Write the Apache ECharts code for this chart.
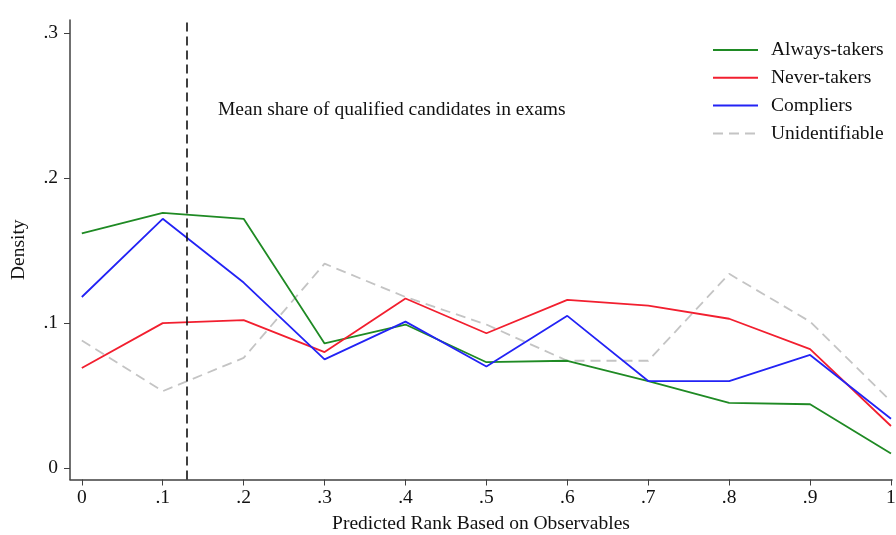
<!DOCTYPE html>
<html>
<head>
<meta charset="utf-8">
<script src="https://cdn.jsdelivr.net/npm/echarts@6/dist/echarts.min.js"></script>
<style>html,body{margin:0;padding:0;background:#fff}#c{width:896px;height:535px}</style>
</head>
<body>
<div id="c"></div>
<script>
var xValues = [0, 0.1, 0.2, 0.3, 0.4, 0.5, 0.6, 0.7, 0.8, 0.9, 1];
var alwaysTakers = [0.162, 0.176, 0.172, 0.086, 0.099, 0.073, 0.074, 0.060, 0.045, 0.044, 0.010];
var neverTakers = [0.069, 0.100, 0.102, 0.080, 0.117, 0.093, 0.116, 0.112, 0.103, 0.082, 0.029];
var compliers = [0.118, 0.172, 0.128, 0.075, 0.101, 0.070, 0.105, 0.060, 0.060, 0.078, 0.034];
var unidentifiable = [0.088, 0.053, 0.076, 0.141, 0.118, 0.099, 0.074, 0.074, 0.134, 0.101, 0.046];
var xTicks = [0, 0.1, 0.2, 0.3, 0.4, 0.5, 0.6, 0.7, 0.8, 0.9, 1];
var yTicks = [0, 0.1, 0.2, 0.3];
var meanShare = 0.133;
var annotation = 'Mean share of qualified candidates in exams';

function pairs(ys) { return xValues.map(function (x, i) { return [x, ys[i]]; }); }
function fmt(v) {
  if (v === 0) return '0';
  if (v === 1) return '1';
  return String(+v.toFixed(2)).replace(/^0/, '');
}
var FONT = '"Liberation Serif", "DejaVu Serif", serif';
var FS = 19.5;
var chart = echarts.init(document.getElementById('c'), null, { renderer: 'canvas' });
var axisColor = '#404040';
var yMin = -0.007937, yMax = 0.30918;
chart.setOption({
  backgroundColor: '#fff',
  animation: false,
  textStyle: { fontFamily: FONT },
  grid: { left: 70, right: 4, top: 20, bottom: 55.5, containLabel: false, outerBoundsMode: 'none' },
  xAxis: {
    type: 'value', min: -0.014591, max: 1.00124,
    name: 'Predicted Rank Based on Observables', nameLocation: 'middle', nameGap: 34,
    nameTextStyle: { fontFamily: FONT, fontSize: FS, color: '#111' },
    axisLine: { show: true, onZero: false, lineStyle: { color: axisColor, width: 1.5 } },
    axisTick: { show: true, length: 6, customValues: xTicks, lineStyle: { color: axisColor } },
    axisLabel: { customValues: xTicks, formatter: fmt, fontFamily: FONT, fontSize: FS, color: '#111', margin: 8 },
    splitLine: { show: false }
  },
  yAxis: {
    type: 'value', min: yMin, max: yMax,
    name: 'Density', nameLocation: 'middle', nameGap: 41, nameRotate: 90,
    nameTextStyle: { fontFamily: FONT, fontSize: FS, color: '#111' },
    axisLine: { show: true, onZero: false, lineStyle: { color: axisColor, width: 1.5 } },
    axisTick: { show: true, length: 6, customValues: yTicks, lineStyle: { color: axisColor } },
    axisLabel: { customValues: yTicks, formatter: fmt, fontFamily: FONT, fontSize: FS, color: '#111', margin: 12 },
    splitLine: { show: false }
  },
  legend: {
    orient: 'vertical', left: 712, top: 40, padding: 0,
    itemWidth: 45, itemHeight: 14, itemGap: 7.8,
    itemStyle: { opacity: 0 },
    textStyle: { fontFamily: FONT, fontSize: FS, color: '#111', lineHeight: 19.5, padding: [0, 0, 0, 8] },
    data: ['Always-takers', 'Never-takers', 'Compliers', 'Unidentifiable']
  },
  series: [
    { name: 'Always-takers', type: 'line', data: pairs(alwaysTakers), symbol: 'none',
      lineStyle: { color: '#1f8a24', width: 1.8 }, itemStyle: { color: '#1f8a24' }, z: 3,
      markLine: {
        silent: true, symbol: 'none', label: { show: false },
        lineStyle: { color: '#111', type: [9, 5], width: 1.6 },
        data: [{ xAxis: meanShare }]
      }
    },
    { name: 'Never-takers', type: 'line', data: pairs(neverTakers), symbol: 'none',
      lineStyle: { color: '#f21f2f', width: 1.8 }, itemStyle: { color: '#f21f2f' }, z: 3 },
    { name: 'Compliers', type: 'line', data: pairs(compliers), symbol: 'none',
      lineStyle: { color: '#2323f5', width: 1.8 }, itemStyle: { color: '#2323f5' }, z: 4 },
    { name: 'Unidentifiable', type: 'line', data: pairs(unidentifiable), symbol: 'none',
      lineStyle: { color: '#c4c4c4', width: 1.8, type: [10, 6] }, itemStyle: { color: '#c4c4c4' }, z: 2 }
  ],
  graphic: [{
    type: 'text', left: 218, top: 100,
    style: { text: annotation, font: FS + 'px ' + FONT, fill: '#111' }
  }]
});
</script>
</body>
</html>
